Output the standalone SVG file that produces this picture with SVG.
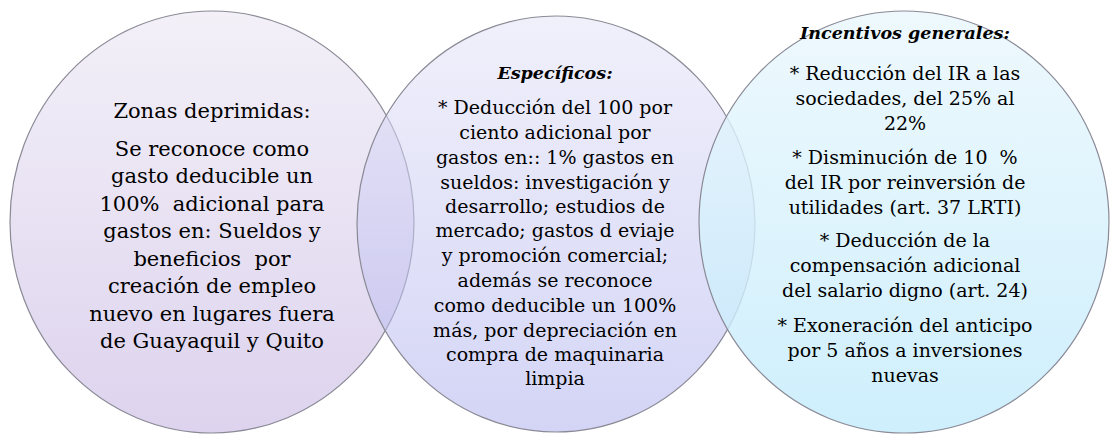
<svg xmlns="http://www.w3.org/2000/svg" width="1110" height="437" viewBox="0 0 1110 437">
<defs>
<linearGradient id="gL" x1="0" y1="0" x2="0" y2="1"><stop offset="0" stop-color="#f3f0f8"/><stop offset="1" stop-color="#ddd3ee"/></linearGradient>
<linearGradient id="gM" x1="0" y1="0" x2="0" y2="1"><stop offset="0" stop-color="#e4e4f8"/><stop offset="1" stop-color="#b0b2ee"/></linearGradient>
<linearGradient id="gR" x1="0" y1="0" x2="0" y2="1"><stop offset="0" stop-color="#eaf7fd"/><stop offset="1" stop-color="#c2ebfc"/></linearGradient>
</defs>
<style>
.c{stroke:#8a8a96;stroke-width:1.2}
.h{font-weight:bold;font-style:italic;font-size:17.5px}
</style>
<g id="zonas">
<ellipse class="c" cx="212" cy="222" rx="202" ry="211" fill="url(#gL)"/>
</g>
<g id="especificos">
<ellipse class="c" cx="556" cy="224" rx="199" ry="208" fill="url(#gM)" fill-opacity="0.55"/>
</g>
<g id="incentivos">
<ellipse class="c" cx="904" cy="222" rx="205" ry="211" fill="url(#gR)" fill-opacity="0.8"/>
</g>
<g id="connectors"/>
<g id="zonas-text" font-family="DejaVu Serif, Liberation Serif, serif" font-size="21" text-anchor="middle" fill="#000">
<text x="212" y="118">Zonas deprimidas:</text>
<text x="212" y="156">Se reconoce como</text>
<text x="212" y="183">gasto deducible un</text>
<text x="212" y="211" xml:space="preserve">100%  adicional para</text>
<text x="212" y="238">gastos en: Sueldos y</text>
<text x="212" y="266" xml:space="preserve">beneficios  por</text>
<text x="212" y="293">creación de empleo</text>
<text x="212" y="321">nuevo en lugares fuera</text>
<text x="212" y="348">de Guayaquil y Quito</text>
</g>
<g id="especificos-text" font-family="DejaVu Serif, Liberation Serif, serif" font-size="19" text-anchor="middle" fill="#000">
<text class="h" x="555" y="79">Específicos:</text>
<text x="555" y="114">* Deducción del 100 por</text>
<text x="555" y="139">ciento adicional por</text>
<text x="555" y="164">gastos en:: 1% gastos en</text>
<text x="555" y="189">sueldos: investigación y</text>
<text x="555" y="213">desarrollo; estudios de</text>
<text x="555" y="237">mercado; gastos d eviaje</text>
<text x="555" y="262">y promoción comercial;</text>
<text x="555" y="287">además se reconoce</text>
<text x="555" y="312">como deducible un 100%</text>
<text x="555" y="337">más, por depreciación en</text>
<text x="555" y="361">compra de maquinaria</text>
<text x="555" y="385">limpia</text>
</g>
<g id="incentivos-text" font-family="DejaVu Serif, Liberation Serif, serif" font-size="19" text-anchor="middle" fill="#000">
<text class="h" x="905" y="39">Incentivos generales:</text>
<text x="905" y="80">* Reducción del IR a las</text>
<text x="905" y="105">sociedades, del 25% al</text>
<text x="905" y="130">22%</text>
<text x="905" y="164" xml:space="preserve">* Disminución de 10  %</text>
<text x="905" y="189">del IR por reinversión de</text>
<text x="905" y="214">utilidades (art. 37 LRTI)</text>
<text x="905" y="247">* Deducción de la</text>
<text x="905" y="272">compensación adicional</text>
<text x="905" y="297">del salario digno (art. 24)</text>
<text x="905" y="332">* Exoneración del anticipo</text>
<text x="905" y="357">por 5 años a inversiones</text>
<text x="905" y="382">nuevas</text>
</g>
</svg>
